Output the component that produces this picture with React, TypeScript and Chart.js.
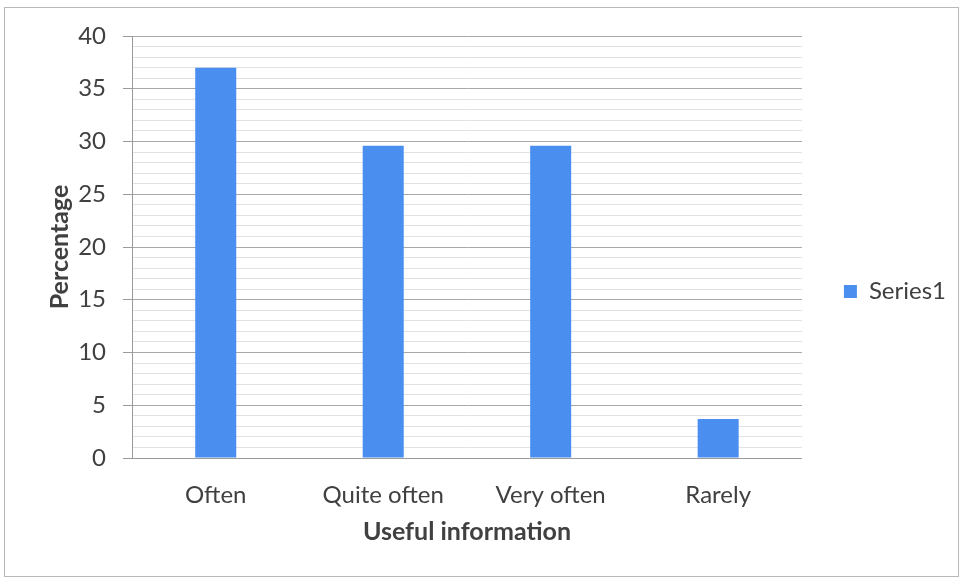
import React, { useEffect, useRef } from "react";
import { Chart, registerables } from "chart.js";

Chart.register(...registerables);

const categories = ["Often", "Quite often", "Very often", "Rarely"];
const seriesName = "Series1";
const seriesValues = [37.0, 29.6, 29.6, 3.7];
const yMin = 0;
const yMax = 40;
const yMajorStep = 5;
const yMinorStep = 1;
const xTitle = "Useful information";
const yTitle = "Percentage";

const FONT = "Lato, 'Open Sans', sans-serif";
const TEXT = "#404040";

export default function App() {
  const ref = useRef<HTMLCanvasElement | null>(null);

  useEffect(() => {
    if (!ref.current) return;
    const chart = new Chart(ref.current, {
      type: "bar",
      data: {
        labels: categories,
        datasets: [
          {
            label: seriesName,
            data: seriesValues,
            backgroundColor: "#4a8ef0",
            borderWidth: 0,
            barPercentage: 0.245,
            categoryPercentage: 1,
          },
        ],
      },
      options: {
        animation: false,
        responsive: false,
        maintainAspectRatio: false,
        layout: { padding: { left: 45, top: 36, right: 6, bottom: 32 } },
        plugins: {
          tooltip: { enabled: false },
          legend: {
            position: "right",
            labels: {
              boxWidth: 13,
              boxHeight: 13,
              padding: 42,
              color: TEXT,
              font: { family: FONT, size: 24 },
            },
          },
        },
        scales: {
          x: {
            afterFit: (scale: any) => {
              scale.height = 89;
            },
            grid: { display: false, drawTicks: false },
            border: { display: true, color: "#9a9a9a", width: 1 },
            ticks: { color: TEXT, padding: 23, maxRotation: 0, font: { family: FONT, size: 24 } },
            title: {
              display: true,
              text: xTitle,
              color: TEXT,
              padding: 0,
              font: { family: FONT, size: 25, weight: "bold" },
            },
          },
          y: {
            min: yMin,
            max: yMax,
            afterFit: (scale: any) => {
              scale.width = 87;
            },
            border: { display: true, color: "#9a9a9a", width: 1 },
            grid: {
              drawTicks: true,
              tickLength: 9,
              color: (ctx: any) =>
                ctx.tick && ctx.tick.value % yMajorStep === 0 ? "#a8a8a8" : "#e2e2e2",
              tickColor: (ctx: any) =>
                ctx.tick && ctx.tick.value % yMajorStep === 0 ? "#9a9a9a" : "rgba(0,0,0,0)",
            },
            ticks: {
              stepSize: yMinorStep,
              autoSkip: false,
              padding: 17,
              color: TEXT,
              font: { family: FONT, size: 24 },
              callback: (v: any) => (Number(v) % yMajorStep === 0 ? String(v) : ""),
            },
            title: {
              display: true,
              text: yTitle,
              color: TEXT,
              padding: 0,
              font: { family: FONT, size: 25, weight: "bold" },
            },
          },
        },
      },
    });
    return () => chart.destroy();
  }, []);

  return (
    <div style={{ position: "absolute", left: 0, top: 0, width: 962, height: 579, background: "#fff" }}>
      <canvas ref={ref} width={962} height={579} style={{ display: "block" }} />
      <div
        style={{
          position: "absolute",
          left: 4,
          top: 7,
          width: 953,
          height: 568,
          border: "1px solid #b8b8b8",
          pointerEvents: "none",
        }}
      />
    </div>
  );
}
